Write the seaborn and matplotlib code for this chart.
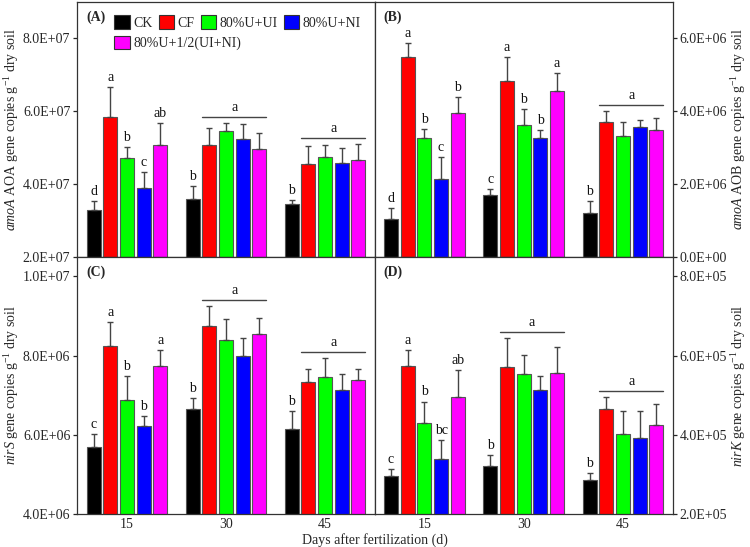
import matplotlib
matplotlib.use('Agg')
import matplotlib.pyplot as plt
import seaborn as sns
import pandas as pd

# --- data ---
treatments = ["CK", "CF", "80%U+UI", "80%U+NI", "80%U+1/2(UI+NI)"]
days = ["15", "30", "45"]
colors = ["#000000", "#FF0000", "#00FF00", "#0000FF", "#FF00FF"]

# rows = days (15, 30, 45), columns = treatments
aoa_mean = [[3.27e7, 5.85e7, 4.72e7, 3.88e7, 5.06e7],
            [3.59e7, 5.08e7, 5.45e7, 5.24e7, 4.96e7],
            [3.45e7, 4.54e7, 4.74e7, 4.58e7, 4.67e7]]
aoa_err = [[0.26e7, 0.82e7, 0.29e7, 0.44e7, 0.62e7],
           [0.35e7, 0.45e7, 0.22e7, 0.42e7, 0.43e7],
           [0.10e7, 0.49e7, 0.33e7, 0.42e7, 0.43e7]]
aoa_letters = [["d", "a", "b", "c", "ab"],
               ["b", "", "", "", ""],
               ["b", "", "", "", ""]]
aoa_groups = [1, 2]   # day groups sharing one letter "a" (line over bars)

aob_mean = [[1.04e6, 5.49e6, 3.27e6, 2.14e6, 3.95e6],
            [1.69e6, 4.83e6, 3.62e6, 3.25e6, 4.55e6],
            [1.19e6, 3.71e6, 3.33e6, 3.57e6, 3.49e6]]
aob_err = [[0.31e6, 0.37e6, 0.25e6, 0.59e6, 0.44e6],
           [0.16e6, 0.66e6, 0.43e6, 0.23e6, 0.50e6],
           [0.34e6, 0.30e6, 0.37e6, 0.18e6, 0.32e6]]
aob_letters = [["d", "a", "b", "c", "b"],
               ["c", "a", "b", "b", "a"],
               ["b", "", "", "", ""]]
aob_groups = [2]

nirs_mean = [[5.68e6, 8.25e6, 6.89e6, 6.23e6, 7.75e6],
             [6.66e6, 8.75e6, 8.39e6, 8.00e6, 8.55e6],
             [6.14e6, 7.34e6, 7.46e6, 7.14e6, 7.39e6]]
nirs_err = [[0.35e6, 0.59e6, 0.60e6, 0.25e6, 0.40e6],
            [0.28e6, 0.50e6, 0.53e6, 0.45e6, 0.39e6],
            [0.46e6, 0.32e6, 0.47e6, 0.40e6, 0.27e6]]
nirs_letters = [["c", "a", "b", "b", "a"],
                ["b", "", "", "", ""],
                ["b", "", "", "", ""]]
nirs_groups = [1, 2]

nirk_mean = [[2.96e5, 5.74e5, 4.30e5, 3.38e5, 4.95e5],
             [3.21e5, 5.72e5, 5.54e5, 5.14e5, 5.56e5],
             [2.87e5, 4.66e5, 4.01e5, 3.92e5, 4.24e5]]
nirk_err = [[0.17e5, 0.40e5, 0.54e5, 0.49e5, 0.68e5],
            [0.27e5, 0.73e5, 0.47e5, 0.35e5, 0.66e5],
            [0.16e5, 0.30e5, 0.58e5, 0.68e5, 0.53e5]]
nirk_letters = [["c", "a", "b", "bc", "ab"],
                ["b", "", "", "", ""],
                ["b", "", "", "", ""]]
nirk_groups = [1, 2]

sns.set_style("ticks")
plt.rcParams['font.family'] = ['Liberation Serif', 'DejaVu Serif']
plt.rcParams['mathtext.fontset'] = 'custom'
plt.rcParams['mathtext.rm'] = 'Liberation Serif'
plt.rcParams['mathtext.it'] = 'Liberation Serif:italic'
plt.rcParams['font.size'] = 10

W, H = 750, 547
fig = plt.figure(figsize=(7.5, 5.47), dpi=100)

x0, xm, x1 = 77.3 / W, 374.7 / W, 672.7 / W
yb, ym, yt = 1 - 514 / H, 1 - 256.7 / H, 1 - 2 / H

panels = [
    dict(tag="(A)", mean=aoa_mean, err=aoa_err, letters=aoa_letters, groups=aoa_groups,
         ylim=(2e7, 9e7), ticks=[2e7, 4e7, 6e7, 8e7],
         ylabel=r"$\it{amoA}$ AOA gene copies g$^{-1}$ dry soil",
         rect=[x0, ym, xm - x0, yt - ym], side="left", bottom=False),
    dict(tag="(B)", mean=aob_mean, err=aob_err, letters=aob_letters, groups=aob_groups,
         ylim=(0, 7e6), ticks=[0, 2e6, 4e6, 6e6],
         ylabel=r"$\it{amoA}$ AOB gene copies g$^{-1}$ dry soil",
         rect=[xm, ym, x1 - xm, yt - ym], side="right", bottom=False),
    dict(tag="(C)", mean=nirs_mean, err=nirs_err, letters=nirs_letters, groups=nirs_groups,
         ylim=(4e6, 1.05e7), ticks=[4e6, 6e6, 8e6, 1e7],
         ylabel=r"$\it{nirS}$ gene copies g$^{-1}$ dry soil",
         rect=[x0, yb, xm - x0, ym - yb], side="left", bottom=True),
    dict(tag="(D)", mean=nirk_mean, err=nirk_err, letters=nirk_letters, groups=nirk_groups,
         ylim=(2e5, 8.5e5), ticks=[2e5, 4e5, 6e5, 8e5],
         ylabel=r"$\it{nirK}$ gene copies g$^{-1}$ dry soil",
         rect=[xm, yb, x1 - xm, ym - yb], side="right", bottom=True),
]

legend_handles = None
for p in panels:
    ax = fig.add_axes(p["rect"])
    rows = []
    for i, d in enumerate(days):
        for j, t in enumerate(treatments):
            rows.append({"day": d, "treatment": t, "value": p["mean"][i][j]})
    df = pd.DataFrame(rows)
    sns.barplot(data=df, x="day", y="value", hue="treatment", hue_order=treatments,
                order=days, palette=colors, width=0.84, gap=0.16, errorbar=None,
                edgecolor="#555555", linewidth=0.8, saturation=1, ax=ax, legend=True)
    handles, labels = ax.get_legend_handles_labels()
    if legend_handles is None:
        legend_handles = handles
    ax.get_legend().remove()
    bars = list(ax.containers)  # one BarContainer per treatment

    ymin, ymax = p["ylim"]
    span = ymax - ymin
    # error bars (upward only) and significance letters
    for j, cont in enumerate(bars):
        for i, bar in enumerate(cont):
            xc = bar.get_x() + bar.get_width() / 2
            m = p["mean"][i][j]
            e = p["err"][i][j]
            ax.errorbar(xc, m, yerr=[[0], [e]], fmt="none", ecolor="#444444",
                        elinewidth=1.0, capsize=2.3, capthick=1.0, zorder=3)
            lab = p["letters"][i][j]
            if lab:
                ax.text(xc, m + e + 0.012 * span, lab, ha="center", va="bottom",
                        fontsize=10, color="#111111")
    for i in p["groups"]:
        left_bar = bars[1][i]
        right_bar = bars[4][i]
        xa = left_bar.get_x()
        xb = right_bar.get_x() + right_bar.get_width()
        top = max(p["mean"][i][j] + p["err"][i][j] for j in range(1, 5))
        yl = top + 0.024 * span
        ax.plot([xa, xb], [yl, yl], color="#444444", lw=1.0)
        ax.text((xa + xb) / 2, yl + 0.012 * span, "a", ha="center", va="bottom",
                fontsize=10, color="#111111")

    ax.set_xlim(-0.5, 2.5)
    ax.set_ylim(ymin, ymax)
    ax.set_yticks(p["ticks"])
    ax.set_yticklabels([f"{v:.1E}" for v in p["ticks"]])
    ax.set_xlabel("")
    for s in ax.spines.values():
        s.set_visible(True)
        s.set_linewidth(0.9)
        s.set_color("#333333")
    ax.tick_params(axis="x", length=0, pad=3, labelsize=10, labelbottom=p["bottom"])
    if p["side"] == "left":
        ax.tick_params(axis="y", direction="out", length=3, width=0.9, pad=2,
                       labelsize=10, left=True, right=False)
        ax.set_ylabel(p["ylabel"], fontsize=10)
        ax.yaxis.set_label_coords(-0.19, 0.5)
    else:
        ax.yaxis.tick_right()
        ax.yaxis.set_label_position("right")
        ax.tick_params(axis="y", direction="out", length=3, width=0.9, pad=2,
                       labelsize=10, left=False, right=True)
        ax.set_ylabel(p["ylabel"], fontsize=10)
        ax.yaxis.set_label_coords(1.19, 0.5)
    ax.text(0.03, 0.965, p["tag"], transform=ax.transAxes, ha="left", va="top",
            fontsize=10, fontweight="bold")

    if p["tag"] == "(A)":
        leg_kw = dict(loc="upper left", frameon=False, fontsize=10, handlelength=1.1,
                      handleheight=1.1, handletextpad=0.25, columnspacing=0.45,
                      borderpad=0, borderaxespad=0)
        leg1 = ax.legend(legend_handles[:4], treatments[:4], ncol=4,
                         bbox_to_anchor=(0.125, 0.948), **leg_kw)
        ax.add_artist(leg1)
        leg2 = ax.legend(legend_handles[4:], treatments[4:], ncol=1,
                         bbox_to_anchor=(0.125, 0.868), **leg_kw)
        for leg in (leg1, leg2):
            for h in leg.legend_handles:
                h.set_edgecolor("#333333")

fig.text(xm, 1 - 540 / H, "Days after fertilization (d)", ha="center", va="center", fontsize=10)

fig.savefig("out.png", dpi=100)
